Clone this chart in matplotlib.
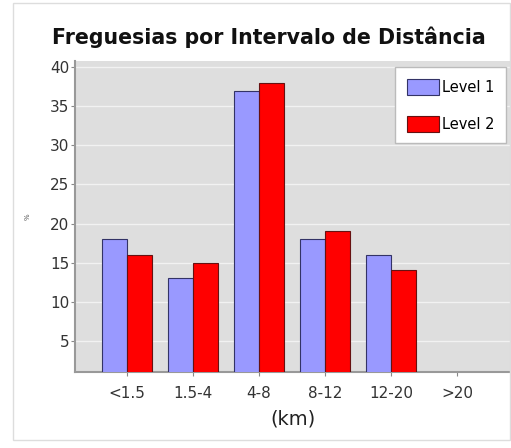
import numpy as np
import matplotlib.pyplot as plt
from matplotlib.patches import Rectangle

intervalos = ['<1.5', '1.5-4', '4-8', '8-12', '12-20', '>20']
level1 = [18, 13, 37, 18, 16, 0]
level2 = [16, 15, 38, 19, 14, 0]

fig = plt.figure(figsize=(5.11, 4.48), dpi=100)
fig.patch.set_facecolor('white')

# light panel frame around the chart
fig.patches.append(Rectangle((13 / 511, 1 - 440 / 448), 497 / 511, 437 / 448,
                             transform=fig.transFigure, fill=False,
                             edgecolor='#dddddd', lw=1))

ax = fig.add_axes([75 / 511, 1 - 372 / 448, 436 / 511, 311 / 448])
ax.set_facecolor('#dedede')

x = np.arange(len(intervalos))
w = 0.38
ax.bar(x - w / 2, level1, w, color='#9999ff', edgecolor='#333366', lw=0.8,
       label='Level 1', zorder=3)
ax.bar(x + w / 2, level2, w, color='#ff0000', edgecolor='#661111', lw=0.8,
       label='Level 2', zorder=3)

ax.set_xlim(-0.79, 5.82)
ax.set_ylim(1, 40.8)
ax.set_yticks([5, 10, 15, 20, 25, 30, 35, 40])
ax.set_xticks(x)
ax.set_xticklabels(intervalos)
ax.yaxis.grid(True, color='#f2f2f2', lw=1, zorder=0)

for s in ['top', 'right']:
    ax.spines[s].set_visible(False)
for s in ['left', 'bottom']:
    ax.spines[s].set_color('#999999')
    ax.spines[s].set_linewidth(1.5)

ax.tick_params(axis='both', colors='#888888', labelcolor='#333333',
               labelsize=11, length=3)
ax.tick_params(axis='y', pad=1)
ax.tick_params(axis='x', pad=7)

ax.set_xlabel('(km)', fontsize=14, color='#222222', labelpad=6)
ax.set_ylabel('%', fontsize=5, color='#555555', labelpad=14)

fig.text(269 / 511, 1 - 37 / 448, 'Freguesias por Intervalo de Distância',
         ha='center', va='center', fontsize=14.8, fontweight='bold',
         color='#111111')

leg = ax.legend(loc='upper right', bbox_to_anchor=(0.995, 0.99),
                fontsize=10.5, frameon=True, fancybox=False,
                handlelength=2.2, handleheight=1.3, handletextpad=0.2,
                labelspacing=1.45, borderpad=0.8, borderaxespad=0.2)
leg.get_frame().set_edgecolor('#bbbbbb')
leg.get_frame().set_facecolor('white')
leg.get_frame().set_alpha(1)

fig.savefig('out.png', dpi=100)
